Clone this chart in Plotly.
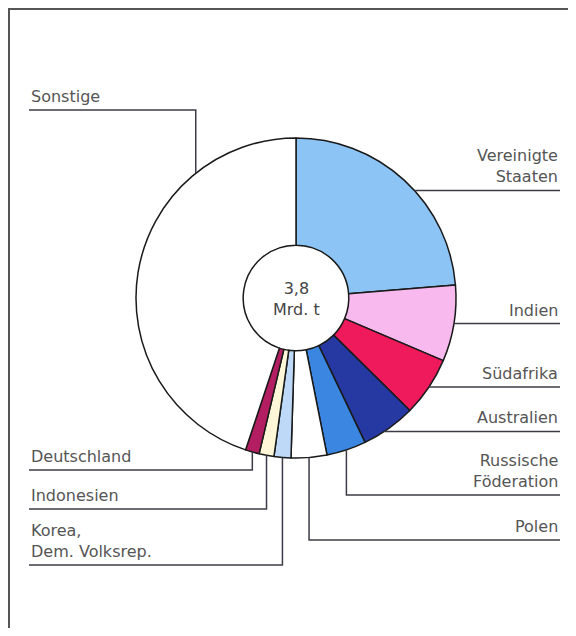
import math
import plotly.graph_objects as go

# Anteile an der Weltförderung (in %), Summe 3,8 Mrd. t
laender = ["Vereinigte<br>Staaten", "Indien", "Südafrika", "Australien",
           "Russische<br>Föderation", "Polen", "Korea,<br>Dem. Volksrep.",
           "Indonesien", "Deutschland", "Sonstige"]
anteile = [23.7, 7.7, 6.0, 5.5, 4.0, 3.6, 1.7, 1.5, 1.4, 44.9]
farben = ["#8CC5F5", "#F7B9EE", "#EE1A5B", "#2639A2", "#3A86E0",
          "#FFFFFF", "#BDD9F7", "#FFF7D8", "#B31E62", "#FFFFFF"]
summe_text = "3,8<br>Mrd. t"

# page is 576x636, the html body adds an 8px margin around the figure
OFF = 8
W, H = 576 - 2 * OFF, 636 - 2 * OFF
cx, cy, r = 296, 298, 160
hole = 0.33

# where the leader leaves each slice (fraction of the slice), direction, line y, side
leader = [
    (0.56, "h", None, "right"),
    (0.5, "h", None, "right"),
    (0.5, "h", None, "right"),
    (0.6, "h", None, "right"),
    (0.5, "v", 495, "right"),
    (0.5, "v", 540, "right"),
    (0.5, "v", 565, "left"),
    (0.5, "v", 509, "left"),
    (0.5, "v", 470, "left"),
    (0.76, "v", 110, "left"),
]
x_left, x_right = 29, 560
line_col = "#3C3C48"
text_col = "#555555"
font = "DejaVu Sans, Liberation Sans, Arial, sans-serif"


def px(x, y):
    # page pixel -> paper coords
    return (x - OFF) / W, 1 - (y - OFF) / H


x0, y0 = px(cx - r, cy + r)
x1, y1 = px(cx + r, cy - r)

fig = go.Figure(go.Pie(
    labels=laender,
    values=anteile,
    sort=False,
    direction="clockwise",
    rotation=0,
    hole=hole,
    marker=dict(colors=farben, line=dict(color="#1A1A1A", width=1.5)),
    textinfo="none",
    hoverinfo="label+percent",
    showlegend=False,
    domain=dict(x=[x0, x1], y=[y0, y1]),
))

shapes = []
annotations = []
total = sum(anteile)
start = 0.0
for name, val, (frac, kind, ly, side) in zip(laender, anteile, leader):
    ang = math.radians((start + frac * val) / total * 360)
    start += val
    ex = cx + r * math.sin(ang)
    ey = cy - r * math.cos(ang)
    xe = x_right if side == "right" else x_left
    if kind == "h":
        ly = ey
        pts = [(ex, ey), (xe, ey)]
    else:
        pts = [(ex, ey), (ex, ly), (xe, ly)]
    path = "M " + " L ".join(f"{px(a, b)[0]:.5f},{px(a, b)[1]:.5f}" for a, b in pts)
    shapes.append(dict(type="path", xref="paper", yref="paper", path=path,
                       line=dict(color=line_col, width=1.5)))
    tx, ty = px(xe, ly - 2)
    annotations.append(dict(
        text=name, x=tx, y=ty, xref="paper", yref="paper", showarrow=False,
        xanchor="right" if side == "right" else "left", yanchor="bottom",
        align="right" if side == "right" else "left",
        font=dict(family=font, size=16, color=text_col),
    ))

cxp, cyp = px(cx, cy + 1)
annotations.append(dict(text=summe_text, x=cxp, y=cyp, xref="paper", yref="paper",
                        showarrow=False, font=dict(family=font, size=16, color="#444444")))

# frame (left and top edge)
shapes.append(dict(type="path", xref="paper", yref="paper",
                   path=f"M {1 / W},0 L {1 / W},{1 - 1 / H} L 1,{1 - 1 / H}",
                   line=dict(color="#555555", width=2)))

fig.update_layout(
    width=W, height=H,
    margin=dict(l=0, r=0, t=0, b=0),
    paper_bgcolor="#FFFFFF",
    plot_bgcolor="#FFFFFF",
    shapes=shapes,
    annotations=annotations,
)

fig.write_html("out.html")
